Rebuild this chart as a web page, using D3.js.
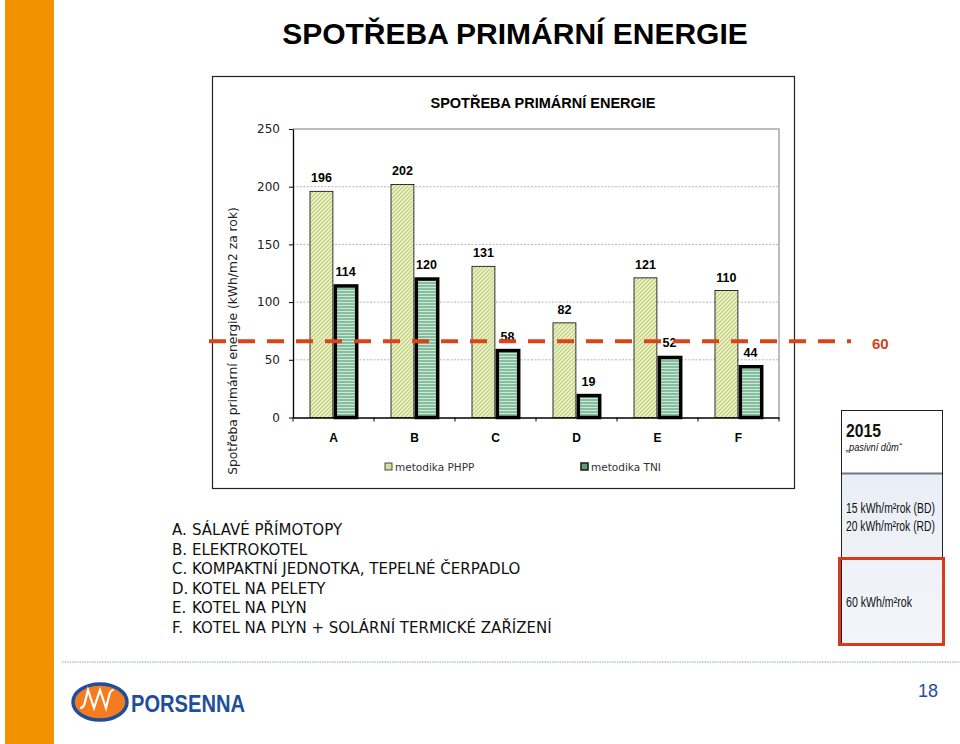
<!DOCTYPE html>
<html><head><meta charset="utf-8">
<script src="https://cdn.jsdelivr.net/npm/d3@7"></script>
<style>
html,body{margin:0;padding:0;background:#fff;}
svg{display:block;}
</style></head>
<body>
<script>
// ---- data ----
const categories = ["A","B","C","D","E","F"];
const seriesNames = ["metodika PHPP","metodika TNI"];
const phpp = [196,202,131,82,121,110];
const tni  = [114,120,58,19,52,44];
const yTicks = [0,50,100,150,200,250];
const refLineValue = 66;      // drawn position of reference line
const refLineLabel = "60";
const listLetters = ["A.","B.","C.","D.","E.","F."];
const listItems = ["SÁLAVÉ PŘÍMOTOPY","ELEKTROKOTEL","KOMPAKTNÍ JEDNOTKA, TEPELNÉ ČERPADLO","KOTEL NA PELETY","KOTEL NA PLYN","KOTEL NA PLYN + SOLÁRNÍ TERMICKÉ ZAŘÍZENÍ"];
const panelLines = ["15 kWh/m²rok (BD)","20 kWh/m²rok (RD)"];
const panelLimit = "60 kWh/m²rok";

const W=960,H=744;
const svg=d3.select("body").append("svg").attr("width",W).attr("height",H);
const defs=svg.append("defs");

// patterns
const p1=defs.append("pattern").attr("id","hatchPHPP").attr("patternUnits","userSpaceOnUse").attr("width",4).attr("height",4);
p1.append("rect").attr("width",4).attr("height",4).attr("fill","#eff4c6");
p1.append("path").attr("d","M-1,1 l2,-2 M0,4 l4,-4 M3,5 l2,-2").attr("stroke","#bccb80").attr("stroke-width",1.1);
const p2=defs.append("pattern").attr("id","hatchTNI").attr("patternUnits","userSpaceOnUse").attr("width",4).attr("height",3);
p2.append("rect").attr("width",4).attr("height",3).attr("fill","#86bf9f");
p2.append("rect").attr("y",2).attr("width",4).attr("height",1).attr("fill","#cfe6d6");
const grad=defs.append("linearGradient").attr("id","panelGrad").attr("x1",0).attr("x2",0).attr("y1",0).attr("y2",1);
grad.append("stop").attr("offset","0%").attr("stop-color","#e6ebf4");
grad.append("stop").attr("offset","100%").attr("stop-color","#f3f5fa");

// orange side bar
svg.append("rect").attr("x",5).attr("y",0).attr("width",49).attr("height",H).attr("fill","#f39200");

// main title
svg.append("text").attr("x",515).attr("y",44).attr("text-anchor","middle")
  .attr("font-family","Liberation Sans, Arial, sans-serif").attr("font-weight","bold").attr("font-size",30)
  .text("SPOTŘEBA PRIMÁRNÍ ENERGIE");

// chart frame
svg.append("rect").attr("x",212.5).attr("y",76.5).attr("width",582).attr("height",412)
  .attr("fill","#fff").attr("stroke","#222").attr("stroke-width",1.2);

svg.append("text").attr("x",543).attr("y",108).attr("text-anchor","middle")
  .attr("font-family","Liberation Sans, Arial, sans-serif").attr("font-weight","bold").attr("font-size",14.5)
  .text("SPOTŘEBA PRIMÁRNÍ ENERGIE");

const plot={left:293,right:779,top:129,bottom:417.5};
const y=d3.scaleLinear().domain([0,250]).range([plot.bottom,plot.top]);
const x0=d3.scaleBand().domain(categories).range([plot.left,plot.right]);
const x1=d3.scaleBand().domain(seriesNames).range([17,64]).paddingInner(0.05);

// gridlines
svg.append("g").selectAll("line").data(yTicks.filter(d=>d>0&&d<250)).join("line")
  .attr("x1",plot.left).attr("x2",plot.right).attr("y1",d=>y(d)).attr("y2",d=>y(d))
  .attr("stroke","#b5b5b5").attr("stroke-dasharray","2,1.5").attr("stroke-width",1);
// plot top & right border
svg.append("path").attr("d",`M${plot.left},${plot.top}H${plot.right}V${plot.bottom}`)
  .attr("fill","none").attr("stroke","#a8a8a8").attr("stroke-width",1.5);

const fontGothic="DejaVu Sans, Verdana, sans-serif";

// y axis
const yAxis=svg.append("g").attr("transform",`translate(${plot.left},0)`)
  .call(d3.axisLeft(y).tickValues(yTicks).tickSize(4).tickPadding(9).tickSizeOuter(0));
yAxis.select(".domain").attr("stroke","#000").attr("stroke-width",1.3);
yAxis.selectAll(".tick line").attr("stroke","#000");
yAxis.selectAll(".tick text").attr("font-family",fontGothic).attr("font-size",12).attr("fill","#222");

// x axis
const xAxis=svg.append("g").attr("transform",`translate(0,${plot.bottom})`)
  .call(d3.axisBottom(x0).tickSize(0).tickPadding(16));
xAxis.select(".domain").attr("stroke","#000").attr("stroke-width",1.3);
xAxis.selectAll(".tick text").attr("font-family","Liberation Sans, Arial, sans-serif").attr("font-weight","bold").attr("font-size",12).attr("fill","#000");
// boundary ticks
const bounds=categories.map(c=>x0(c)).concat([plot.right]);
svg.append("g").selectAll("line").data(bounds).join("line")
  .attr("x1",d=>d).attr("x2",d=>d).attr("y1",plot.bottom).attr("y2",plot.bottom+4).attr("stroke","#000");

// bars
const rows=categories.map((c,i)=>({c,vals:[{s:seriesNames[0],v:phpp[i]},{s:seriesNames[1],v:tni[i]}]}));
const g=svg.append("g");
const grp=g.selectAll("g").data(rows).join("g").attr("transform",d=>`translate(${x0(d.c)},0)`);
grp.selectAll("rect").data(d=>d.vals).join("rect")
  .attr("x",d=>x1(d.s)+(d.s===seriesNames[1]?1.2:0))
  .attr("width",d=>x1.bandwidth()-(d.s===seriesNames[1]?1.5:0))
  .attr("y",d=>y(d.v))
  .attr("height",d=>plot.bottom-y(d.v))
  .attr("fill",d=>d.s===seriesNames[0]?"url(#hatchPHPP)":"url(#hatchTNI)")
  .attr("stroke","#000")
  .attr("stroke-width",d=>d.s===seriesNames[0]?0.8:3.5);
grp.selectAll("text").data(d=>d.vals).join("text")
  .attr("x",d=>x1(d.s)+x1.bandwidth()/2)
  .attr("y",d=>y(d.v)-(d.s===seriesNames[1]?10:9))
  .attr("text-anchor","middle")
  .attr("font-family","Liberation Sans, Arial, sans-serif").attr("font-weight","bold").attr("font-size",12.5)
  .text(d=>d.v);

// reference dashed line
svg.append("line").attr("x1",209).attr("x2",851).attr("y1",y(refLineValue)).attr("y2",y(refLineValue))
  .attr("stroke","#d9441a").attr("stroke-width",4).attr("stroke-dasharray","17,12");
svg.append("text").attr("x",872).attr("y",y(refLineValue)+8)
  .attr("font-family","Liberation Sans, Arial, sans-serif").attr("font-weight","bold").attr("font-size",15)
  .attr("fill","#d0441c").text(refLineLabel);

// y axis title
svg.append("text").attr("transform","translate(237,341) rotate(-90)").attr("text-anchor","middle")
  .attr("font-family",fontGothic).attr("font-size",12.3).attr("fill","#222")
  .text("Spotřeba primární energie  (kWh/m2 za rok)");

// legend
const legX=[385,581];
const leg=svg.append("g").selectAll("g").data(seriesNames).join("g").attr("transform",(d,i)=>`translate(${legX[i]},463)`);
leg.append("rect").attr("width",7).attr("height",7)
  .attr("fill",(d,i)=>i===0?"#d8df9c":"#5e9e80").attr("stroke","#222").attr("stroke-width",(d,i)=>i===0?0.8:1.6);
leg.append("text").attr("x",10).attr("y",7.5).attr("font-family",fontGothic).attr("font-size",10.5).attr("fill","#333").text(d=>d);

// list below
const list=svg.append("g").attr("font-family",fontGothic).attr("font-size",15).attr("fill","#111");
list.selectAll("text.l").data(listLetters).join("text").attr("class","l")
  .attr("x",172).attr("y",(d,i)=>535+i*19.6).text(d=>d);
list.selectAll("text.t").data(listItems).join("text").attr("class","t")
  .attr("x",192).attr("y",(d,i)=>535+i*19.6).text(d=>d);

// right panel
const pan=svg.append("g");
pan.append("rect").attr("x",841.5).attr("y",410.5).attr("width",101).attr("height",234).attr("fill","url(#panelGrad)").attr("stroke","#222").attr("stroke-width",1);
pan.append("rect").attr("x",842).attr("y",411).attr("width",100).attr("height",62).attr("fill","#fff");
pan.append("line").attr("x1",842).attr("x2",942).attr("y1",473.5).attr("y2",473.5).attr("stroke","#6f7786").attr("stroke-width",2);
pan.append("rect").attr("x",839.5).attr("y",558.5).attr("width",104).attr("height",86).attr("fill","none").attr("stroke","#d63c1c").attr("stroke-width",3);

// condensed text helper: scales horizontally to a target width
function narrow(x,yy,txt,size,width,opts={}){
  const gg=pan.append("g").attr("transform",`translate(${x},${yy})`);
  const t=gg.append("text").attr("font-family","Liberation Sans, Arial, sans-serif").attr("font-size",size).attr("fill","#111")
    .attr("font-weight",opts.bold?"bold":"normal").attr("font-style",opts.italic?"italic":"normal").text(txt);
  const w=t.node().getComputedTextLength();
  t.attr("transform",`scale(${width/w},1)`);
}
narrow(846,437,"2015",19,35,{bold:true});
narrow(846,451,"„pasivní dům“",10,56,{italic:true});
panelLines.forEach((d,i)=>narrow(846,513+i*18,d,14,89));
narrow(846,607,panelLimit,14,66);

// footer
svg.append("line").attr("x1",62).attr("x2",960).attr("y1",662).attr("y2",662).attr("stroke","#8aa4bc").attr("stroke-width",1.2).attr("stroke-dasharray","1.5,1");
svg.append("ellipse").attr("cx",100).attr("cy",702).attr("rx",27).attr("ry",18).attr("fill","#f47b20").attr("stroke","#1f4e9c").attr("stroke-width",3.5);
svg.append("path").attr("d","M80,708 q4,0 5,-6 l3,-12 l6,18 l6,-18 l6,18 l3,-12 q1,-6 5,-6")
  .attr("fill","none").attr("stroke","#fff").attr("stroke-width",2.2);
svg.append("text").attr("x",131).attr("y",712).attr("font-family","Liberation Sans, Arial, sans-serif").attr("font-weight","bold").attr("font-size",24)
  .attr("textLength",114).attr("lengthAdjust","spacingAndGlyphs").attr("fill","#1f4e9c").text("PORSENNA");
svg.append("text").attr("x",928).attr("y",697).attr("text-anchor","middle").attr("font-family","Liberation Sans, Arial, sans-serif").attr("font-size",18)
  .attr("fill","#1f4e9c").text("18");
</script>
</body></html>
